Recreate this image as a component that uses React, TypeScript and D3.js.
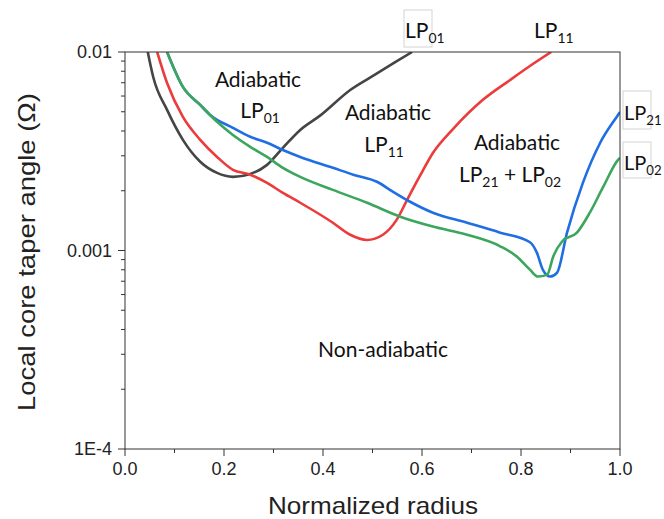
import React from 'react';
import * as d3 from 'd3';

// normalized radius vs local core taper angle
const lp01: [number, number][] = [
  [0.046, 0.01], [0.057, 0.00748], [0.085, 0.00511], [0.117, 0.00361], [0.152, 0.0028],
  [0.186, 0.00246], [0.218, 0.00235], [0.253, 0.00243], [0.287, 0.0027], [0.319, 0.00329],
  [0.354, 0.00405], [0.394, 0.00478], [0.455, 0.00644], [0.505, 0.00769], [0.545, 0.00886], [0.58, 0.01],
];
const lp11: [number, number][] = [
  [0.065, 0.01], [0.085, 0.00698], [0.117, 0.00471], [0.152, 0.00361], [0.186, 0.00296],
  [0.218, 0.00255], [0.253, 0.00241], [0.287, 0.00219], [0.319, 0.00195], [0.354, 0.00174],
  [0.42, 0.00138], [0.455, 0.0012], [0.489, 0.00113], [0.521, 0.0012], [0.549, 0.00143],
  [0.57, 0.0018], [0.596, 0.00238], [0.622, 0.0031], [0.663, 0.0041], [0.723, 0.00574],
  [0.778, 0.00723], [0.818, 0.0085], [0.861, 0.01],
];
const lp21: [number, number][] = [
  [0.085, 0.01], [0.117, 0.00667], [0.152, 0.00541], [0.172, 0.00482], [0.218, 0.00415],
  [0.253, 0.00374], [0.287, 0.00349], [0.319, 0.00321], [0.354, 0.00296], [0.42, 0.00261],
  [0.461, 0.00241], [0.509, 0.00222], [0.541, 0.00198], [0.576, 0.00176], [0.622, 0.00155],
  [0.691, 0.00138], [0.758, 0.00123], [0.818, 0.0011], [0.832, 0.000976], [0.844, 0.000801],
  [0.859, 0.000739], [0.873, 0.000774], [0.893, 0.00123], [0.925, 0.00219], [0.96, 0.00349],
  [0.996, 0.00482], [1.0, 0.00499],
];
const lp02: [number, number][] = [
  [0.085, 0.01], [0.117, 0.00667], [0.152, 0.00541], [0.186, 0.00445], [0.218, 0.00382],
  [0.253, 0.00333], [0.287, 0.00296], [0.319, 0.00261], [0.354, 0.00235], [0.42, 0.00202],
  [0.489, 0.00174], [0.556, 0.00148], [0.622, 0.00132], [0.691, 0.0012], [0.758, 0.00105],
  [0.792, 0.000931], [0.818, 0.000801], [0.834, 0.000739], [0.853, 0.000756], [0.865, 0.000931],
  [0.883, 0.00111], [0.913, 0.00123], [0.939, 0.00155], [0.966, 0.00209], [0.996, 0.00286],
  [1.0, 0.00293],
];

// drawing order: green sits on top of blue where they overlap
const series = [
  { name: 'LP01', color: '#454545', data: lp01 },
  { name: 'LP11', color: '#ec3b3b', data: lp11 },
  { name: 'LP21', color: '#1f6fe3', data: lp21 },
  { name: 'LP02', color: '#3ca65c', data: lp02 },
];

const xTicks = [0, 0.2, 0.4, 0.6, 0.8, 1.0];
const xMinor = [0.1, 0.3, 0.5, 0.7, 0.9];
const yTicks = [0.0001, 0.001, 0.01];
const yTickLabels = ['1E-4', '0.001', '0.01'];

const W = 664, H = 519;
const left = 125, right = 620, top = 52, bottom = 449;

const tickFont = '"Liberation Sans", Arial, sans-serif';
const noteFont = 'Lato, "Open Sans", sans-serif';

// LP label with subscript
const LP = ({ x, y, sub, size = 21, anchor = 'start' }: { x: number; y: number; sub: string; size?: number; anchor?: string }) => (
  <text x={x} y={y} fontFamily={noteFont} fontSize={size} fill="#111" textAnchor={anchor}>
    LP<tspan fontSize={size * 0.66} dy={5}>{sub}</tspan>
  </text>
);

export default function App() {
  const x = d3.scaleLinear().domain([0, 1]).range([left, right]);
  const y = d3.scaleLog().domain([1e-4, 0.01]).range([bottom, top]);

  const line = d3.line<[number, number]>()
    .x(d => x(d[0]))
    .y(d => y(d[1]))
    .curve(d3.curveMonotoneX);

  const yMinor: number[] = [];
  [1e-4, 1e-3].forEach(dec => {
    for (let m = 2; m <= 9; m++) yMinor.push(dec * m);
  });

  return (
    <svg width={W} height={H} style={{ position: 'absolute', left: 0, top: 0, background: '#fff' }}>
      <defs>
        <clipPath id="plot">
          <rect x={left} y={top} width={right - left} height={bottom - top} />
        </clipPath>
      </defs>

      {/* curves */}
      <g clipPath="url(#plot)">
        {series.map(s => (
          <path key={s.name} d={line(s.data) || ''} fill="none" stroke={s.color} strokeWidth={2.6} strokeLinejoin="round" />
        ))}
      </g>

      {/* frame */}
      <rect x={left} y={top} width={right - left} height={bottom - top} fill="none" stroke="#333" strokeWidth={1} />

      {/* x axis ticks */}
      {xTicks.map(t => (
        <g key={t}>
          <line x1={x(t)} x2={x(t)} y1={bottom} y2={bottom + 7} stroke="#333" />
          <text x={x(t)} y={bottom + 26} textAnchor="middle" fontFamily={tickFont} fontSize={18} fill="#222">
            {t.toFixed(1)}
          </text>
        </g>
      ))}
      {xMinor.map(t => (
        <line key={t} x1={x(t)} x2={x(t)} y1={bottom} y2={bottom + 4} stroke="#333" />
      ))}

      {/* y axis ticks */}
      {yTicks.map((t, i) => (
        <g key={t}>
          <line x1={left - 7} x2={left} y1={y(t)} y2={y(t)} stroke="#333" />
          <text x={left - 13} y={y(t) + 6} textAnchor="end" fontFamily={tickFont} fontSize={18} fill="#222">
            {yTickLabels[i]}
          </text>
        </g>
      ))}
      {yMinor.map(t => (
        <line key={t} x1={left - 4} x2={left} y1={y(t)} y2={y(t)} stroke="#333" />
      ))}

      {/* axis titles */}
      <text x={373} y={514} textAnchor="middle" fontFamily={tickFont} fontSize={24} fill="#222"
        textLength={210} lengthAdjust="spacingAndGlyphs">
        Normalized radius
      </text>
      <text transform={`translate(35, 252) rotate(-90)`} textAnchor="middle" fontFamily={tickFont} fontSize={24} fill="#222"
        textLength={318} lengthAdjust="spacingAndGlyphs">
        Local core taper angle (Ω)
      </text>

      {/* region notes */}
      <text x={258} y={87} textAnchor="middle" fontFamily={noteFont} fontSize={21} fill="#111">Adiabatic</text>
      <LP x={260} y={118} sub="01" anchor="middle" />
      <text x={388} y={120} textAnchor="middle" fontFamily={noteFont} fontSize={21} fill="#111">Adiabatic</text>
      <LP x={384} y={152} sub="11" anchor="middle" />
      <text x={517} y={150} textAnchor="middle" fontFamily={noteFont} fontSize={21} fill="#111">Adiabatic</text>
      <text x={510} y={182} textAnchor="middle" fontFamily={noteFont} fontSize={21} fill="#111">
        LP<tspan fontSize={14} dy={5}>21</tspan><tspan dy={-5}> + LP</tspan><tspan fontSize={14} dy={5}>02</tspan>
      </text>
      <text x={383} y={357} textAnchor="middle" fontFamily={noteFont} fontSize={21} fill="#111">Non-adiabatic</text>

      {/* mode labels outside frame */}
      <rect x={404} y={10} width={28} height={37} fill="none" stroke="#d4d4d4" />
      <LP x={405} y={38} sub="01" size={21} />
      <LP x={534} y={38} sub="11" size={21} />
      <rect x={623} y={91} width={28} height={38} fill="none" stroke="#d4d4d4" />
      <LP x={624} y={120} sub="21" size={20} />
      <rect x={623} y={142} width={28} height={36} fill="none" stroke="#d4d4d4" />
      <LP x={624} y={170} sub="02" size={20} />
    </svg>
  );
}
